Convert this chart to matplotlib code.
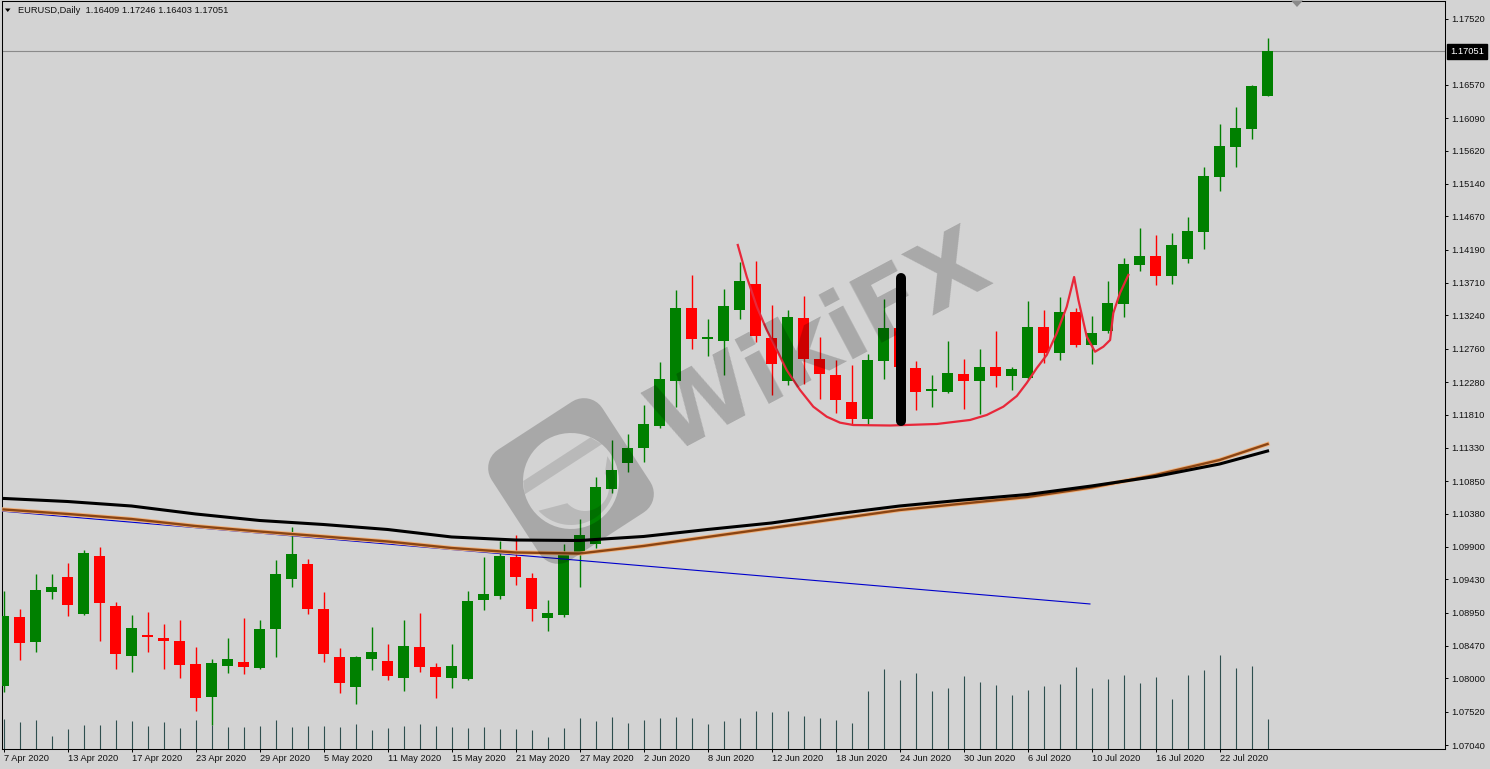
import numpy as np
import matplotlib.pyplot as plt
from matplotlib.path import Path
from matplotlib.patches import PathPatch, Polygon
import matplotlib.transforms as mtransforms

plt.rcParams['font.family'] = ['Liberation Sans', 'DejaVu Sans']

# EURUSD daily candles, 7 Apr 2020 .. 27 Jul 2020 (one per trading day)
opens = [1.07892, 1.08892, 1.08527, 1.09249, 1.09465, 1.08931, 1.09768, 1.09047, 1.08325, 1.08632,
         1.08585, 1.08541, 1.08214, 1.07733, 1.08181, 1.08238, 1.08152, 1.08719, 1.09441, 1.09653,
         1.09008, 1.08315, 1.07882, 1.08286, 1.08253, 1.08007, 1.08459, 1.08166, 1.08007, 1.07997,
         1.09138, 1.09195, 1.09758, 1.09451, 1.08878, 1.08917, 1.09797, 1.09942, 1.10740, 1.11115,
         1.11332, 1.11649, 1.12299, 1.13348, 1.12896, 1.12876, 1.13319, 1.13695, 1.12915, 1.12299,
         1.13204, 1.12612, 1.12381, 1.11991, 1.11750, 1.12576, 1.13060, 1.12482, 1.12146, 1.12140,
         1.12396, 1.12299, 1.12497, 1.12371, 1.12342, 1.13074, 1.12703, 1.13295, 1.12819, 1.13016,
         1.13406, 1.13973, 1.14099, 1.13815, 1.14056, 1.14445, 1.15244, 1.15677, 1.15936, 1.16409]
highs = [1.09268, 1.09008, 1.09509, 1.09509, 1.09672, 1.09855, 1.09903, 1.09104, 1.08917, 1.08960,
         1.08787, 1.08845, 1.08459, 1.08282, 1.08585, 1.08873, 1.08845, 1.09711, 1.10183, 1.09721,
         1.09249, 1.08440, 1.08325, 1.08748, 1.08498, 1.08845, 1.08941, 1.08228, 1.08498, 1.09263,
         1.09758, 1.09985, 1.10076, 1.09527, 1.09133, 1.09942, 1.10298, 1.10913, 1.11443, 1.11529,
         1.11952, 1.12569, 1.13608, 1.13829, 1.13185, 1.13618, 1.14012, 1.14022, 1.13392, 1.13319,
         1.13522, 1.12934, 1.12598, 1.12530, 1.12684, 1.13478, 1.13175, 1.12588, 1.12381, 1.12876,
         1.12616, 1.12752, 1.13021, 1.12501, 1.13449, 1.13319, 1.13511, 1.13348, 1.13233, 1.13742,
         1.14070, 1.14503, 1.14402, 1.14435, 1.14666, 1.15388, 1.16004, 1.16254, 1.16567, 1.17246]
lows = [1.07810, 1.08267, 1.08383, 1.09152, 1.08902, 1.08920, 1.08546, 1.08142, 1.08094, 1.08383,
        1.08142, 1.08012, 1.07535, 1.07329, 1.08084, 1.08065, 1.08140, 1.08315, 1.09325, 1.08931,
        1.08238, 1.07795, 1.07636, 1.08123, 1.07978, 1.07824, 1.08094, 1.07719, 1.07863, 1.07978,
        1.08989, 1.09148, 1.09354, 1.08834, 1.08690, 1.08883, 1.09325, 1.09888, 1.10673, 1.10985,
        1.11130, 1.11616, 1.11924, 1.12761, 1.12655, 1.12385, 1.13185, 1.12857, 1.12097, 1.12241,
        1.12256, 1.12039, 1.11837, 1.11664, 1.11664, 1.12319, 1.12424, 1.11876, 1.11924, 1.12120,
        1.11895, 1.11818, 1.12212, 1.12165, 1.12330, 1.12559, 1.12602, 1.12781, 1.12533, 1.12992,
        1.13223, 1.13887, 1.13680, 1.13695, 1.14002, 1.14204, 1.15042, 1.15388, 1.15792, 1.16403]
closes = [1.08902, 1.08517, 1.09278, 1.09325, 1.09061, 1.09816, 1.09094, 1.08354, 1.08729, 1.08603,
          1.08546, 1.08195, 1.07719, 1.08224, 1.08282, 1.08171, 1.08719, 1.09509, 1.09797, 1.09008,
          1.08354, 1.07939, 1.08315, 1.08383, 1.08036, 1.08469, 1.08166, 1.08026, 1.08181, 1.09123,
          1.09220, 1.09773, 1.09470, 1.09003, 1.08950, 1.09797, 1.10072, 1.10769, 1.11010, 1.11327,
          1.11674, 1.12323, 1.13348, 1.12896, 1.12934, 1.13377, 1.13738, 1.12944, 1.12544, 1.13218,
          1.12616, 1.12400, 1.12025, 1.11750, 1.12598, 1.13060, 1.12492, 1.12140, 1.12179, 1.12410,
          1.12299, 1.12497, 1.12371, 1.12468, 1.13074, 1.12703, 1.13295, 1.12819, 1.12992, 1.13425,
          1.13983, 1.14099, 1.13815, 1.14258, 1.14464, 1.15254, 1.15687, 1.15947, 1.16553, 1.17051]
tick_volume = [30, 27, 29, 13, 20, 24, 24, 29, 28, 23, 27, 21, 29, 24, 22, 22, 23, 29, 22, 23,
               23, 22, 25, 19, 21, 23, 25, 23, 22, 21, 22, 20, 20, 19, 12, 21, 31, 28, 32, 26,
               29, 31, 32, 31, 25, 28, 31, 38, 37, 38, 33, 31, 29, 26, 58, 80, 69, 76, 58, 61,
               73, 67, 64, 54, 59, 63, 65, 82, 61, 70, 74, 66, 72, 50, 74, 79, 94, 81, 83, 30]

date_labels = ['7 Apr 2020', '13 Apr 2020', '17 Apr 2020', '23 Apr 2020', '29 Apr 2020',
               '5 May 2020', '11 May 2020', '15 May 2020', '21 May 2020', '27 May 2020',
               '2 Jun 2020', '8 Jun 2020', '12 Jun 2020', '18 Jun 2020', '24 Jun 2020',
               '30 Jun 2020', '6 Jul 2020', '10 Jul 2020', '16 Jul 2020', '22 Jul 2020']
date_bars = list(range(0, 80, 4))

# moving averages, read every 4 bars
ma_bars = [0, 4, 8, 12, 16, 20, 24, 28, 32, 36, 40, 44, 48, 52, 56, 60, 64, 68, 72, 76, 79]
ma_black = [1.10599, 1.10555, 1.10490, 1.10375, 1.10281, 1.10223, 1.10151, 1.10043, 1.09999, 1.09992,
            1.10050, 1.10151, 1.10245, 1.10375, 1.10490, 1.10577, 1.10656, 1.10779, 1.10916, 1.11096, 1.11284]
ma_brown = [1.10440, 1.10375, 1.10302, 1.10201, 1.10122, 1.10050, 1.09978, 1.09884, 1.09819, 1.09804,
            1.09913, 1.10043, 1.10173, 1.10302, 1.10432, 1.10526, 1.10620, 1.10757, 1.10938, 1.11154, 1.11385]

# blue trend line
trend_bars = [-0.2, 67.9]
trend_prices = [1.10418, 1.09076]

# thick black vertical marker
mark_bar = 56.1
mark_prices = [1.13781, 1.11717]

# hand-drawn red cup & handle
cup_bars = [45.89, 46.45, 47.08, 47.70, 48.33, 48.95, 49.78, 50.61, 51.45, 52.28, 53.11, 55.41,
            58.33, 60.41, 61.45, 62.49, 63.33, 63.95, 64.58, 65.20, 65.83, 66.45, 66.91, 67.18,
            67.70, 68.22, 68.74, 69.16, 69.36, 69.78, 70.30]
cup_prices = [1.14258, 1.13800, 1.13367, 1.13031, 1.12742, 1.12453, 1.12165, 1.11924, 1.11779, 1.11693,
              1.11659, 1.11652, 1.11674, 1.11732, 1.11804, 1.11924, 1.12078, 1.12266, 1.12482, 1.12670,
              1.12987, 1.13367, 1.13796, 1.13464, 1.12934, 1.12717, 1.12790, 1.12886, 1.13276, 1.13565,
              1.13825]

price_ticks = [1.17520, 1.16570, 1.16090, 1.15620, 1.15140, 1.14670, 1.14190, 1.13710, 1.13240,
               1.12760, 1.12280, 1.11810, 1.11330, 1.10850, 1.10380, 1.09900, 1.09430, 1.08950,
               1.08470, 1.08000, 1.07520, 1.07040]
last_price = 1.17051

BG = '#d3d3d3'
W, H = 1490, 769
fig = plt.figure(figsize=(W / 100, H / 100), dpi=100, facecolor=BG)
rect = [2 / W, 20 / H, 1443 / W, 748 / H]
xlim = (-0.094, 90.09)

# volume in its own scale behind the candles
axv = fig.add_axes(rect, zorder=0)
x = np.arange(len(opens))
axv.vlines(x, 0, tick_volume, colors='#2f4f4f', lw=0.8)
axv.set_xlim(*xlim)
axv.set_ylim(0, 748)
axv.axis('off')

ax = fig.add_axes(rect, zorder=1)
ax.set_facecolor('none')
o = np.array(opens); c = np.array(closes); hi = np.array(highs); lo = np.array(lows)
cols = np.where(c >= o, '#008000', '#ff0000')
ax.axhline(last_price, color='#8a8a8a', lw=0.8, zorder=0.5)
ax.vlines(x, lo, hi, colors=cols, lw=1.0, zorder=2)
body = np.maximum(np.abs(c - o), 0.00015)
ax.bar(x, body, bottom=np.minimum(o, c), width=0.69, color=cols, linewidth=0, zorder=3)

ax.plot(trend_bars, trend_prices, color='#0000cc', lw=0.8, zorder=4)
ax.plot(ma_bars, ma_brown, color='#f0b07a', lw=3.0, zorder=4)
ax.plot(ma_bars, ma_brown, color='#8b4513', lw=1.7, zorder=4)
ax.plot(ma_bars, ma_black, color='black', lw=2.2, zorder=4)
ax.plot(cup_bars, cup_prices, color='#e8283a', lw=1.6, zorder=5, solid_joinstyle='round')
ax.plot([mark_bar, mark_bar], mark_prices, color='black', lw=7.2, solid_capstyle='round', zorder=6)

ax.set_xlim(*xlim)
ax.set_ylim(1.069823, 1.177798)
ax.yaxis.tick_right()
ax.set_yticks(price_ticks)
ax.set_yticklabels([f'{p:.5f}' for p in price_ticks])
ax.set_xticks(date_bars)
ax.set_xticklabels(date_labels, ha='left')
ax.tick_params(axis='y', direction='out', length=2.5, width=0.7, pad=2, labelsize=6.7, labelcolor='#111111')
ax.tick_params(axis='x', direction='out', length=2.5, width=0.7, pad=1, labelsize=6.7, labelcolor='#111111')
for s in ax.spines.values():
    s.set_linewidth(0.75)
    s.set_color('black')

# current price box on the right axis
tr = mtransforms.blended_transform_factory(ax.transAxes, ax.transData)
ax.text(1.0035, last_price, f'{last_price:.5f}', transform=tr, ha='left', va='center',
        fontsize=6.7, color='white', clip_on=False,
        bbox=dict(boxstyle='square,pad=0.3', fc='black', ec='black'))

# overlay in pixel coordinates: title, markers, watermark
ov = fig.add_axes([0, 0, 1, 1], zorder=5)
ov.set_xlim(0, W)
ov.set_ylim(H, 0)
ov.axis('off')
ov.text(18, 10.5, 'EURUSD,Daily  1.16409 1.17246 1.16403 1.17051', ha='left', va='center',
        fontsize=6.7, color='#111111')
ov.add_patch(Polygon([(5, 8.5), (10.5, 8.5), (7.75, 12)], closed=True, fc='black', ec='none'))
ov.add_patch(Polygon([(1291, 0.5), (1303, 0.5), (1297, 7)], closed=True, fc='#8a8a8a', ec='none'))

# watermark logo: rounded square with a round hole and a simple eagle head
cx, cy, half, rad, th = 571, 481, 66, 22, np.deg2rad(-33)
t = np.linspace(0, np.pi / 2, 10)
sq = []
for px, py, a0 in [(half - rad, half - rad, 0), (-(half - rad), half - rad, 90),
                   (-(half - rad), -(half - rad), 180), (half - rad, -(half - rad), 270)]:
    a = np.deg2rad(a0) + t
    sq += list(zip(px + rad * np.cos(a), py + rad * np.sin(a)))
sq = np.array(sq)
rot = np.array([[np.cos(th), -np.sin(th)], [np.sin(th), np.cos(th)]])
sq = sq @ rot.T + [cx, cy]
a = np.linspace(2 * np.pi, 0, 60)
hole = np.column_stack([cx + 48 * np.cos(a), cy + 48 * np.sin(a)])
verts = np.vstack([sq, sq[:1], hole, hole[:1]])
codes = ([Path.MOVETO] + [Path.LINETO] * (len(sq) - 1) + [Path.CLOSEPOLY] +
         [Path.MOVETO] + [Path.LINETO] * (len(hole) - 1) + [Path.CLOSEPOLY])
ov.add_patch(PathPatch(Path(verts, codes), fc='black', ec='none', alpha=0.2))
# eagle head: crescent in the lower right of the hole
a1 = np.linspace(-0.6, 2.4, 40)
outer = np.column_stack([cx + 44 * np.cos(a1), cy + 44 * np.sin(a1)])
inner = np.column_stack([cx + 14 + 24 * np.cos(a1[::-1]), cy + 6 + 24 * np.sin(a1[::-1])])
ov.add_patch(Polygon(np.vstack([outer, inner]), closed=True, fc='black', ec='none', alpha=0.12))
# band over the top of the hole
band = np.array([[-46, -14], [46, -14], [40, -26], [-40, -26]]) @ rot.T + [cx, cy]
ov.add_patch(Polygon(band, closed=True, fc='black', ec='none', alpha=0.12))

ov.text(820, 345, 'WikiFX', rotation=28, ha='center', va='center', fontsize=68,
        fontweight='bold', family='DejaVu Sans', color='black', alpha=0.2)

fig.savefig('out.png', dpi=100, facecolor=BG)
